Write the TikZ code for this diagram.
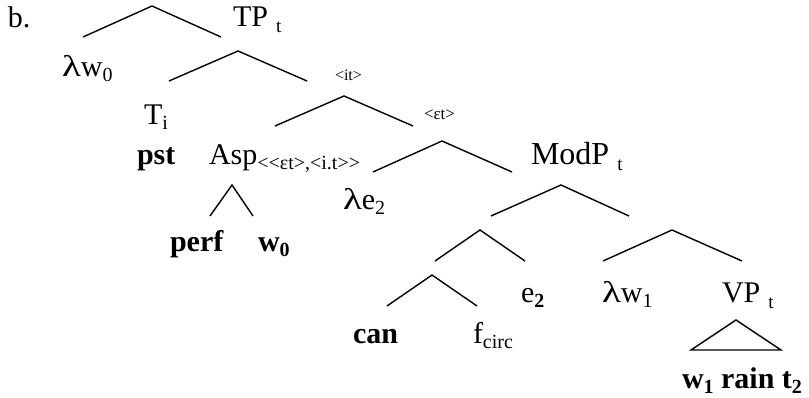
\documentclass[tikz,border=0pt]{standalone}
\usepackage{fontspec}
\usepackage{graphicx}
\setmainfont{Liberation Serif}
% sizes of the running text and of subscripts
\newcommand{\tbig}{\fontsize{30}{32}\selectfont}
\newcommand{\tmod}{\fontsize{32}{34}\selectfont}
\newcommand{\tsub}[1]{\raisebox{-6pt}{\fontsize{19}{19}\selectfont #1}}
\newcommand{\tlow}[1]{\raisebox{-5pt}{\fontsize{20}{20}\selectfont #1}}
\newcommand{\tsmall}{\fontsize{16}{16}\selectfont}
% a wide lambda
\newcommand{\lam}{\scalebox{1.3}[1]{λ}}
% angle brackets kept apart so they are not merged into guillemets
\newcommand{\la}{<\kern0pt}
\newcommand{\ra}{>\kern0pt}
\begin{document}
\begin{tikzpicture}[x=1pt,y=-1pt,
  lbl/.style={anchor=base west,inner sep=0pt,outer sep=0pt,font=\tbig},
  branch/.style={line width=1.4pt,line join=miter}]
\useasboundingbox (0,0) rectangle (809,398);

% labels
\node[lbl] (b) at (8,28) {b.};
\node[lbl] (tp) at (233,27) {TP\hspace{8pt}\tsub{t}};
\node[lbl] (lw0) at (62,77) {\lam w\tlow{0}};
\node[lbl,font=\tsmall] (it) at (335,81) {\la it\ra};
\node[lbl] (ti) at (144,125) {T\tlow{i}};
\node[lbl,font=\fontsize{17}{17}\selectfont] (et) at (424,120) {\la εt\ra};
\node[lbl] (pst) at (137,165) {\textbf{pst}};
\node[lbl] (asp) at (209,165) {Asp\tlow{\la\la εt\ra,\la i.t\ra\ra}};
\node[lbl,font=\tmod] (modp) at (531,165) {ModP\hspace{8pt}\tsub{t}};
\node[lbl] (le2) at (343,210) {\lam e\tlow{2}};
\node[lbl] (perf) at (170,252) {\textbf{perf}};
\node[lbl] (w0) at (258,252) {\textbf{w\tlow{0}}};
\node[lbl] (e2) at (521,302) {e\tlow{\textbf{2}}};
\node[lbl] (lw1) at (602,302) {\lam w\tlow{1}};
\node[lbl] (vp) at (722,302) {VP\hspace{8pt}\tsub{t}};
\node[lbl] (can) at (353,343) {\textbf{can}};
\node[lbl] (fc) at (473,343) {f\tlow{circ}};
\node[lbl] (wrt) at (682,388) {\textbf{w\tlow{1} rain t\tlow{2}}};

% branch points: apex, left foot, right foot
\coordinate (a1) at (152,6);   \coordinate (l1) at (83,37);   \coordinate (r1) at (221,37);
\coordinate (a2) at (238,51);  \coordinate (l2) at (169,81);  \coordinate (r2) at (307,81);
\coordinate (a3) at (344,96);  \coordinate (l3) at (275,126); \coordinate (r3) at (413,126);
\coordinate (a4) at (442,141); \coordinate (l4) at (373,172); \coordinate (r4) at (512,172);
\coordinate (a5) at (232,185); \coordinate (l5) at (210,216); \coordinate (r5) at (253,216);
\coordinate (a6) at (561,185); \coordinate (l6) at (491,216); \coordinate (r6) at (629,216);
\coordinate (a7) at (480,230); \coordinate (l7) at (435,261); \coordinate (r7) at (525,261);
\coordinate (a8) at (672,230); \coordinate (l8) at (603,261); \coordinate (r8) at (742,261);
\coordinate (a9) at (432,275); \coordinate (l9) at (387,306); \coordinate (r9) at (477,306);
\coordinate (av) at (736,320); \coordinate (lv) at (691,350); \coordinate (rv) at (781,350);

\foreach \i in {1,...,9}
  \draw[branch] (l\i) -- (a\i) -- (r\i);
\draw[branch] (lv) -- (av) -- (rv) -- cycle;
\end{tikzpicture}
\end{document}
